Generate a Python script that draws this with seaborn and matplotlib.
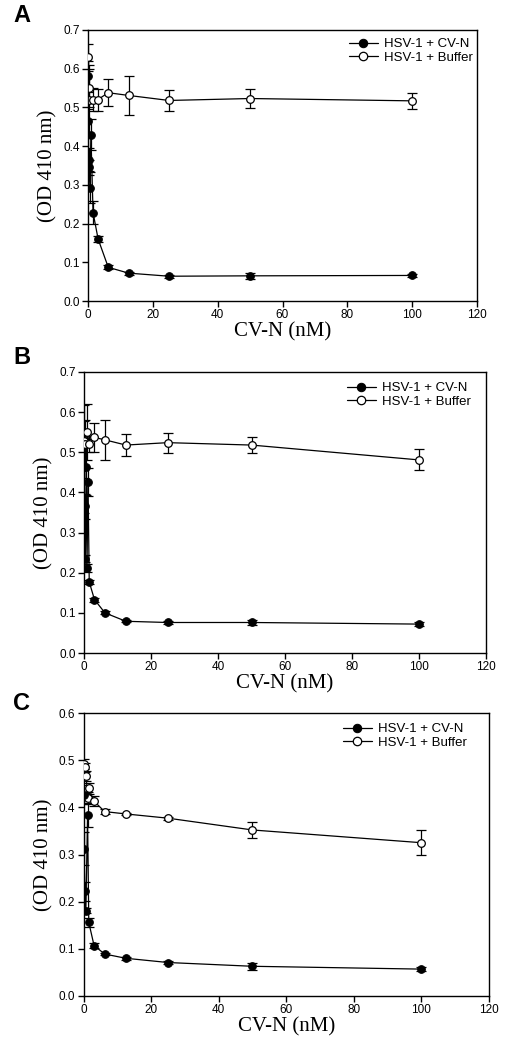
"""
HSV-1 + CV-N vs buffer, OD 410 nm, three panels (A, B, C)
"""

import numpy as np
import pandas as pd
import matplotlib
matplotlib.use('Agg')
import matplotlib.pyplot as plt
import seaborn as sns

# ──────────────────────────────────────────────
# DATA
# ──────────────────────────────────────────────
LABEL_CVN = 'HSV-1 + CV-N'
LABEL_BUF = 'HSV-1 + Buffer'

# Panel A
a_cvn_x   = [0.05, 0.1, 0.2, 0.3, 0.6, 0.9, 1.5625, 3.125, 6.25, 12.5, 25, 50, 100]
a_cvn_y   = [0.58, 0.465, 0.365, 0.345, 0.293, 0.43, 0.228, 0.16, 0.087, 0.072, 0.064, 0.065, 0.066]
a_cvn_err = [0.04, 0.03, 0.03, 0.02, 0.04, 0.04, 0.03, 0.008, 0.005, 0.004, 0.004, 0.007, 0.004]
a_buf_x   = [0.05, 0.2, 0.4, 1.5, 3.0, 6.25, 12.5, 25, 50, 100]
a_buf_y   = [0.63, 0.55, 0.52, 0.52, 0.52, 0.538, 0.531, 0.518, 0.523, 0.517]
a_buf_err = [0.035, 0.05, 0.09, 0.03, 0.028, 0.035, 0.05, 0.027, 0.025, 0.02]

# Panel B
b_cvn_x   = [0.05, 0.2, 0.4, 0.7, 0.9, 1.2, 1.5625, 3.125, 6.25, 12.5, 25, 50, 100]
b_cvn_y   = [0.464, 0.365, 0.235, 0.464, 0.212, 0.427, 0.177, 0.133, 0.1, 0.079, 0.076, 0.076, 0.072]
b_cvn_err = [0.115, 0.03, 0.008, 0.07, 0.01, 0.035, 0.005, 0.005, 0.004, 0.003, 0.004, 0.007, 0.004]
b_buf_x   = [0.05, 0.2, 1.0, 1.5625, 3.125, 6.25, 12.5, 25, 50, 100]
b_buf_y   = [0.527, 0.52, 0.55, 0.52, 0.537, 0.531, 0.518, 0.524, 0.518, 0.481]
b_buf_err = [0.09, 0.06, 0.07, 0.02, 0.036, 0.05, 0.028, 0.025, 0.02, 0.026]

# Panel C
c_cvn_x   = [0.05, 0.2, 0.4, 0.7, 1.2, 1.5625, 3.125, 6.25, 12.5, 25, 50, 100]
c_cvn_y   = [0.427, 0.312, 0.222, 0.181, 0.384, 0.156, 0.107, 0.089, 0.08, 0.071, 0.063, 0.057]
c_cvn_err = [0.02, 0.035, 0.02, 0.005, 0.025, 0.01, 0.006, 0.003, 0.003, 0.003, 0.007, 0.005]
c_buf_x   = [0.05, 0.5, 0.8, 1.2, 1.5625, 3.125, 6.25, 12.5, 25, 50, 100]
c_buf_y   = [0.492, 0.485, 0.466, 0.42, 0.44, 0.413, 0.391, 0.386, 0.377, 0.352, 0.325]
c_buf_err = [0.01, 0.01, 0.01, 0.012, 0.012, 0.01, 0.006, 0.003, 0.003, 0.016, 0.027]

panels = [
    ('A', a_cvn_x, a_cvn_y, a_cvn_err, a_buf_x, a_buf_y, a_buf_err, 0.7),
    ('B', b_cvn_x, b_cvn_y, b_cvn_err, b_buf_x, b_buf_y, b_buf_err, 0.7),
    ('C', c_cvn_x, c_cvn_y, c_cvn_err, c_buf_x, c_buf_y, c_buf_err, 0.6),
]

# axes rectangles in pixels: left, top, right, bottom  (figure 509 x 1050)
W, H = 509, 1050
rects_px = [(88, 30, 477, 301), (84, 372, 486, 653), (83.5, 713, 489, 996)]
letter_y = [15, 358, 703]
legend_px = [(473, 38), (471, 382), (467, 723)]   # upper-right corner of legend

# ──────────────────────────────────────────────
# STYLE
# ──────────────────────────────────────────────
sns.set_style('ticks')
plt.rcParams['font.family'] = ['Liberation Sans', 'DejaVu Sans']
plt.rcParams['axes.linewidth'] = 1.0
plt.rcParams['text.color'] = 'black'
plt.rcParams['axes.labelcolor'] = 'black'

fig = plt.figure(figsize=(W / 100, H / 100), dpi=100)

for (letter, cx, cy, ce, bx, by, be, ymax), (l, t, r, b), ly, (lx, lt) in zip(
        panels, rects_px, letter_y, legend_px):
    ax = fig.add_axes([l / W, 1 - b / H, (r - l) / W, (b - t) / H])

    df_cvn = pd.DataFrame({'x': cx, 'y': cy, 'err': ce})
    df_buf = pd.DataFrame({'x': bx, 'y': by, 'err': be})

    # error bars
    for df in (df_cvn, df_buf):
        ax.errorbar(df['x'], df['y'], yerr=df['err'], fmt='none', ecolor='black',
                    elinewidth=0.9, capsize=3.5, capthick=0.9, zorder=2)

    sns.lineplot(data=df_buf, x='x', y='y', ax=ax, color='black', linewidth=0.9,
                 marker='o', markersize=5.5, markerfacecolor='white',
                 markeredgecolor='black', markeredgewidth=0.9,
                 estimator=None, label=LABEL_BUF, zorder=3)
    sns.lineplot(data=df_cvn, x='x', y='y', ax=ax, color='black', linewidth=0.9,
                 marker='o', markersize=5.5, markerfacecolor='black',
                 markeredgecolor='black', estimator=None, label=LABEL_CVN, zorder=4)

    ax.set_xlim(0, 120)
    ax.set_ylim(0, ymax)
    ax.set_xticks(np.arange(0, 121, 20))
    ax.set_yticks(np.arange(0, ymax + 0.001, 0.1))
    ax.set_yticklabels([f'{v:.1f}' for v in np.arange(0, ymax + 0.001, 0.1)])
    ax.tick_params(axis='both', direction='out', length=4, width=1,
                   labelsize=8.5, pad=2, colors='black')
    for s in ax.spines.values():
        s.set_visible(True)
        s.set_color('black')

    ax.set_xlabel('CV-N (nM)', family='Liberation Serif', fontsize=15, labelpad=1)
    ax.set_ylabel('(OD 410 nm)', family='Liberation Serif', fontsize=15, labelpad=4)

    handles, labels = ax.get_legend_handles_labels()
    order = [labels.index(LABEL_CVN), labels.index(LABEL_BUF)]
    ax.legend([handles[i] for i in order], [labels[i] for i in order],
              loc='upper right', bbox_to_anchor=(lx / W, 1 - lt / H),
              bbox_transform=fig.transFigure, frameon=False, fontsize=9.5,
              handlelength=2.2, handletextpad=0.5, labelspacing=0.1,
              borderaxespad=0, borderpad=0, markerscale=1.1)

    fig.text(22 / W, 1 - ly / H, letter, fontsize=17, fontweight='bold',
             ha='center', va='center')

plt.savefig('out.png', dpi=100)
